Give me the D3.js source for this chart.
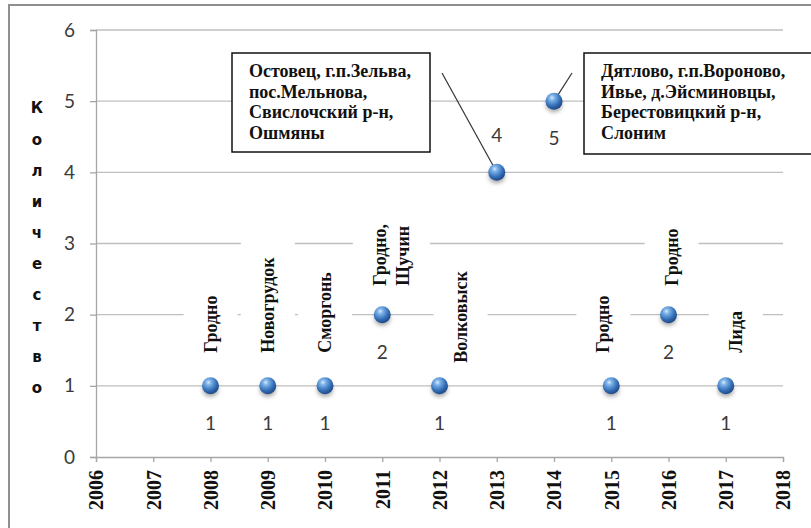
<!DOCTYPE html>
<html>
<head>
<meta charset="utf-8">
<script src="https://cdnjs.cloudflare.com/ajax/libs/d3/7.8.5/d3.min.js"></script>
<style>
  body { margin: 0; background: #fff; }
  .chart svg { display: block; }
</style>
</head>
<body>
<div class="chart"></div>
<script>
// Data

var years = [2008, 2009, 2010, 2011, 2012, 2013, 2014, 2015, 2016, 2017];
var counts = [1, 1, 1, 2, 1, 4, 5, 1, 2, 1];
var places = [
    ["Гродно"],
    ["Новогрудок"],
    ["Сморгонь"],
    ["Гродно,", "Щучин"],
    ["Волковыск"],
    ["Остовец, г.п.Зельва,", "пос.Мельнова,", "Свислочский р-н,", "Ошмяны"],
    ["Дятлово, г.п.Вороново,", "Ивье, д.Эйсминовцы,", "Берестовицкий р-н,", "Слоним"],
    ["Гродно"],
    ["Гродно"],
    ["Лида"]
];
var yearTicks = [2006, 2007, 2008, 2009, 2010, 2011, 2012, 2013, 2014, 2015, 2016, 2017, 2018];
var countTicks = [0, 1, 2, 3, 4, 5, 6];
var yTitle = "Количество";

// Set-up the plot dimensions

var svgWidth = 811;
var svgHeight = 528;

var margin = { top: 30, right: 28, bottom: 71, left: 96 };

var width = svgWidth - margin.left - margin.right;
var height = svgHeight - margin.top - margin.bottom;

var serif = "'Liberation Serif', 'Times New Roman', serif";
var sans = "Lato, 'Open Sans', sans-serif";

// label nudges, callout boxes (page pixels)
var labelShift = {
    2011: { dx: 9, gap: 29 },
    2012: { dx: 21, gap: 23 },
    2015: { dx: -8 },
    2016: { dx: 3, gap: 29 },
    2017: { dx: 10 }
};
var callouts = {
    2013: { x: 232, y: 53, w: 198, h: 99, lx: 442, ly: 73 },
    2014: { x: 584, y: 53, w: 240, h: 101, lx: 572, ly: 73 }
};

var rows = years.map(function(year, i) {
    return { year: year, count: counts[i], place: places[i] };
});

var root = d3.select(".chart")
    .append("svg")
    .attr("width", svgWidth)
    .attr("height", svgHeight);

var defs = root.append("defs");

var grad = defs.append("radialGradient")
    .attr("id", "ball")
    .attr("cx", "38%")
    .attr("cy", "30%")
    .attr("r", "72%");
grad.append("stop").attr("offset", "0%").attr("stop-color", "#d6ebfc");
grad.append("stop").attr("offset", "22%").attr("stop-color", "#7db3e8");
grad.append("stop").attr("offset", "65%").attr("stop-color", "#3670b8");
grad.append("stop").attr("offset", "100%").attr("stop-color", "#1b4684");

defs.append("filter")
    .attr("id", "soft")
    .attr("x", "-50%").attr("y", "-50%")
    .attr("width", "200%").attr("height", "200%")
    .append("feGaussianBlur")
    .attr("stdDeviation", 2);

// outer chart frame
root.append("rect")
    .attr("x", 9)
    .attr("y", 5)
    .attr("width", 830)
    .attr("height", 540)
    .attr("fill", "#fff")
    .attr("stroke", "#8f8f8f")
    .attr("stroke-width", 2);

var chart = root.append("g")
    .attr("transform", "translate(" + margin.left + "," + margin.top + ")");

// Scales

var xLinearScale = d3.scaleLinear()
    .domain([yearTicks[0], yearTicks[yearTicks.length - 1]])
    .range([0, width]);

var yLinearScale = d3.scaleLinear()
    .domain([countTicks[0], countTicks[countTicks.length - 1]])
    .range([height, 0]);

// Gridlines

chart.selectAll(".grid")
    .data(countTicks.slice(1))
    .enter()
    .append("line")
    .attr("class", "grid")
    .attr("x1", 0)
    .attr("x2", width)
    .attr("y1", function(d) { return yLinearScale(d); })
    .attr("y2", function(d) { return yLinearScale(d); })
    .attr("stroke", "#bfbfbf")
    .attr("stroke-width", 1.3);

// Axes

var bottomAxis = d3.axisBottom(xLinearScale)
    .tickValues(yearTicks)
    .tickFormat(d3.format("d"))
    .tickSize(5);

var leftAxis = d3.axisLeft(yLinearScale)
    .tickValues(countTicks)
    .tickFormat(d3.format("d"))
    .tickSize(6)
    .tickPadding(15);

var xAxisG = chart.append("g")
    .attr("class", "x-axis")
    .attr("transform", "translate(0," + height + ")")
    .call(bottomAxis);

xAxisG.selectAll("text")
    .attr("transform", "rotate(-90)")
    .attr("text-anchor", "end")
    .attr("x", -13)
    .attr("y", 0)
    .attr("dy", "0.34em")
    .attr("font-family", serif)
    .attr("font-weight", "bold")
    .attr("font-size", "20px")
    .attr("fill", "#111");

var yAxisG = chart.append("g")
    .attr("class", "y-axis")
    .call(leftAxis);

yAxisG.selectAll("text")
    .attr("font-family", sans)
    .attr("font-size", "19px")
    .attr("fill", "#3a3a3a");

chart.selectAll(".domain, .tick line")
    .attr("stroke", "#a6a6a6")
    .attr("stroke-width", 1.3);

// Y axis title, one letter per line
var title = root.append("text")
    .attr("x", 37)
    .attr("y", 108)
    .attr("text-anchor", "middle")
    .attr("font-family", "'DejaVu Sans', sans-serif")
    .attr("font-weight", "bold")
    .attr("font-size", "15px")
    .attr("fill", "#111");

title.selectAll("tspan")
    .data(yTitle.split(""))
    .enter()
    .append("tspan")
    .attr("x", 37)
    .attr("dy", function(d, i) { return i === 0 ? "0.36em" : 31.1; })
    .text(function(d) { return d; });

// Rotated place labels with white boxes

var plain = rows.filter(function(d) { return !callouts[d.year]; });

var labels = chart.selectAll(".place")
    .data(plain)
    .enter()
    .append("g")
    .attr("class", "place")
    .attr("transform", function(d) {
        var s = labelShift[d.year] || {};
        var gap = s.gap || 33;
        return "translate(" + (xLinearScale(d.year) + (s.dx || 0)) + "," + (yLinearScale(d.count) - gap) + ")";
    });

labels.each(function(d) {
    var g = d3.select(this);
    var n = d.place.length;
    var t = g.append("text")
        .attr("transform", "rotate(-90)")
        .attr("text-anchor", "start")
        .attr("font-family", serif)
        .attr("font-weight", "bold")
        .attr("font-size", "18px")
        .attr("fill", "#111");
    t.selectAll("tspan")
        .data(d.place)
        .enter()
        .append("tspan")
        .attr("x", 0)
        .attr("y", function(line, i) { return (i - (n - 1) / 2) * 23; })
        .attr("dy", "0.34em")
        .text(function(line) { return line; });

    var bb = g.node().getBBox();
    g.insert("rect", "text")
        .attr("x", bb.x - 17)
        .attr("y", bb.y - 15)
        .attr("width", bb.width + 34)
        .attr("height", bb.height + 23)
        .attr("fill", "#fff");
});

// Callout boxes

rows.filter(function(d) { return callouts[d.year]; }).forEach(function(d) {
    var c = callouts[d.year];
    chart.append("line")
        .attr("x1", c.lx - margin.left)
        .attr("y1", c.ly - margin.top)
        .attr("x2", xLinearScale(d.year))
        .attr("y2", yLinearScale(d.count))
        .attr("stroke", "#333")
        .attr("stroke-width", 1.2);

    chart.append("rect")
        .attr("x", c.x - margin.left)
        .attr("y", c.y - margin.top)
        .attr("width", c.w)
        .attr("height", c.h)
        .attr("fill", "#fff")
        .attr("stroke", "#111")
        .attr("stroke-width", 1.5);

    chart.append("text")
        .attr("font-family", serif)
        .attr("font-weight", "bold")
        .attr("font-size", "18px")
        .attr("fill", "#111")
        .selectAll("tspan")
        .data(d.place)
        .enter()
        .append("tspan")
        .attr("x", c.x - margin.left + 17)
        .attr("y", function(line, i) { return c.y - margin.top + 24 + i * 20.5; })
        .text(function(line) { return line; });
});

// Points

chart.selectAll(".shadow")
    .data(rows)
    .enter()
    .append("ellipse")
    .attr("class", "shadow")
    .attr("cx", function(d) { return xLinearScale(d.year); })
    .attr("cy", function(d) { return yLinearScale(d.count) + 4; })
    .attr("rx", 8)
    .attr("ry", 7)
    .attr("fill", "rgba(0,0,0,0.35)")
    .attr("filter", "url(#soft)");

chart.selectAll(".dot")
    .data(rows)
    .enter()
    .append("circle")
    .attr("class", "dot")
    .attr("cx", function(d) { return xLinearScale(d.year); })
    .attr("cy", function(d) { return yLinearScale(d.count); })
    .attr("r", 8.5)
    .attr("fill", "url(#ball)");

// Value labels

chart.selectAll(".value")
    .data(rows)
    .enter()
    .append("text")
    .attr("class", "value")
    .attr("x", function(d) { return xLinearScale(d.year); })
    .attr("y", function(d) {
        var off = d.year === 2013 ? -37 : 37;
        return yLinearScale(d.count) + off;
    })
    .attr("dy", "0.36em")
    .attr("text-anchor", "middle")
    .attr("font-family", sans)
    .attr("font-size", "19px")
    .attr("fill", "#3a3a3a")
    .text(function(d) { return d.count; });
</script>
</body>
</html>
